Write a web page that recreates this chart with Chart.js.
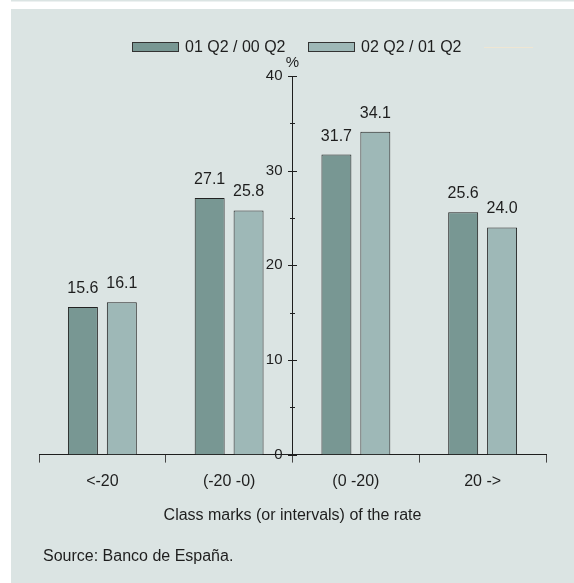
<!DOCTYPE html>
<html>
<head>
<meta charset="utf-8">
<script src="https://cdn.jsdelivr.net/npm/chart.js@4"></script>
<style>
  html, body { margin: 0; padding: 0; background: #ffffff; }
  canvas { display: block; }
</style>
</head>
<body>
<canvas id="rateChart" width="574" height="583"></canvas>
<script>
const categories = ['<-20', '(-20 -0)', '(0 -20)', '20 ->'];
const seriesNames = ['01 Q2 / 00 Q2', '02 Q2 / 01 Q2'];
const firstSeries = [15.6, 27.1, 31.7, 25.6];
const secondSeries = [16.1, 25.8, 34.1, 24.0];
const yTicks = [0, 10, 20, 30, 40];

const darkFill = '#789793';
const lightFill = '#9eb8b7';
const ink = '#1e1e1e';
const font = "'Liberation Sans', Arial, sans-serif";

// page background: white margin + grey panel
const panelBg = {
  id: 'panelBg',
  beforeDraw(chart) {
    const ctx = chart.ctx;
    ctx.save();
    ctx.fillStyle = '#ffffff';
    ctx.fillRect(0, 0, chart.width, chart.height);
    ctx.fillStyle = '#dbe4e3';
    ctx.fillRect(11, 0, chart.width - 11, 1.5);
    ctx.fillRect(11, 9, chart.width - 11, chart.height - 9);
    ctx.restore();
  }
};

// value labels, y axis ticks + labels, legend, notes
const extras = {
  id: 'extras',
  afterDraw(chart) {
    const ctx = chart.ctx;
    const y = chart.scales.y;
    const xAxisPx = chart.scales.x.getPixelForValue(1.5);
    ctx.save();

    // y axis tick marks (major every 10, minor every 5)
    ctx.strokeStyle = ink;
    ctx.lineWidth = 1;
    for (let v = 0; v <= yTicks[yTicks.length - 1]; v += 5) {
      const py = Math.round(y.getPixelForValue(v)) + 0.5;
      const half = v % 10 === 0 ? 4.5 : 2.5;
      ctx.beginPath();
      ctx.moveTo(xAxisPx - half, py);
      ctx.lineTo(xAxisPx + half, py);
      ctx.stroke();
    }

    // y tick labels left of the axis
    ctx.fillStyle = ink;
    ctx.font = '15px ' + font;
    ctx.textAlign = 'right';
    ctx.textBaseline = 'middle';
    yTicks.forEach(v => {
      ctx.fillText(String(v), xAxisPx - 10, y.getPixelForValue(v));
    });

    ctx.textAlign = 'center';
    ctx.textBaseline = 'alphabetic';
    ctx.fillText('%', xAxisPx, 67);

    // values above the bars
    ctx.font = '16px ' + font;
    chart.data.datasets.forEach((ds, i) => {
      chart.getDatasetMeta(i).data.forEach((bar, j) => {
        ctx.fillText(ds.data[j].toFixed(1), bar.x, bar.y - 14);
      });
    });

    // legend
    const legendItems = [{ box: 132, text: 185 }, { box: 308, text: 361 }];
    ctx.textAlign = 'left';
    ctx.textBaseline = 'middle';
    chart.data.datasets.forEach((ds, i) => {
      const it = legendItems[i];
      ctx.fillStyle = ds.backgroundColor;
      ctx.fillRect(it.box, 42, 47, 10);
      ctx.strokeStyle = '#333';
      ctx.strokeRect(it.box + 0.5, 42.5, 46, 9);
      ctx.fillStyle = ink;
      ctx.fillText(ds.label, it.text, 48);
    });
    ctx.strokeStyle = '#efe6d3';
    ctx.beginPath();
    ctx.moveTo(484, 47.5);
    ctx.lineTo(533, 47.5);
    ctx.stroke();

    // source
    ctx.textBaseline = 'alphabetic';
    ctx.fillStyle = ink;
    ctx.fillText('Source: Banco de España.', 43, 561);
    ctx.restore();
  }
};

new Chart(document.getElementById('rateChart'), {
  type: 'bar',
  data: {
    labels: categories,
    datasets: [
      {
        label: seriesNames[0],
        data: firstSeries,
        backgroundColor: darkFill,
        borderColor: '#222',
        borderWidth: 1,
        categoryPercentage: 0.614,
        barPercentage: 0.77
      },
      {
        label: seriesNames[1],
        data: secondSeries,
        backgroundColor: lightFill,
        borderColor: '#222',
        borderWidth: 1,
        categoryPercentage: 0.614,
        barPercentage: 0.77
      }
    ]
  },
  options: {
    responsive: false,
    animation: false,
    layout: { padding: { left: 39, right: 28, top: 76, bottom: 57.5 } },
    plugins: {
      legend: { display: false },
      tooltip: { enabled: false }
    },
    scales: {
      x: {
        grid: {
          display: true,
          drawOnChartArea: false,
          drawTicks: true,
          tickLength: 8,
          color: '#444',
          offset: true
        },
        border: { display: true, color: ink, width: 1 },
        ticks: { color: ink, font: { family: font, size: 16 }, padding: 9.5 },
        title: {
          display: true,
          text: 'Class marks (or intervals) of the rate',
          color: ink,
          font: { family: font, size: 16 },
          padding: { top: 5.5, bottom: 0 }
        }
      },
      y: {
        position: { x: 1.5 },
        min: 0,
        max: 40,
        afterBuildTicks(scale) {
          scale.ticks = yTicks.map(v => ({ value: v }));
        },
        grid: { display: false },
        border: { display: true, color: ink, width: 1 },
        ticks: { display: false }
      }
    }
  },
  plugins: [panelBg, extras]
});
</script>
</body>
</html>
